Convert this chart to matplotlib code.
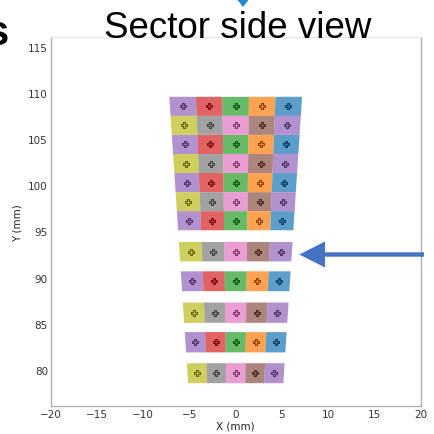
import numpy as np
import matplotlib
matplotlib.use("Agg")
import matplotlib.pyplot as plt
from matplotlib.patches import Polygon
from matplotlib.colors import to_rgb

# ---- data ----
row_centers = [108.53, 106.47, 104.40, 102.34, 100.28, 98.21, 96.15,
               92.80, 89.60, 86.20, 83.00, 79.65]
row_heights = [2.06, 2.06, 2.06, 2.06, 2.06, 2.06, 2.06,
               2.10, 2.15, 2.20, 2.20, 2.16]
row_pattern = ["A", "B", "A", "B", "A", "B", "A", "B", "A", "B", "A", "B"]
pattern_colors = {
    "A": ["tab:purple", "tab:red", "tab:green", "tab:orange", "tab:blue"],
    "B": ["tab:olive", "tab:gray", "tab:pink", "tab:brown", "tab:purple"],
}
n_cells = 5
half_slope = 0.0655  # tan of sector half-angle
xticks = [-20, -15, -10, -5, 0, 5, 10, 15, 20]
yticks = [80, 85, 90, 95, 100, 105, 110, 115]

W, H = 434, 435
fig = plt.figure(figsize=(W / 100, H / 100), dpi=100)
ax = fig.add_axes([50.7 / W, 1 - 407 / H, 370 / W, 368.7 / H])

edges = np.linspace(-half_slope, half_slope, n_cells + 1)
for yc, h, pat in zip(row_centers, row_heights, row_pattern):
    y0, y1 = yc - h / 2, yc + h / 2
    for j in range(n_cells):
        c = pattern_colors[pat][j]
        t0, t1 = edges[j], edges[j + 1]
        poly = Polygon([(y0 * t0, y0), (y0 * t1, y0), (y1 * t1, y1), (y1 * t0, y1)],
                       closed=True, facecolor=c, alpha=0.72, edgecolor="none")
        ax.add_patch(poly)
        tm = (t0 + t1) / 2
        dark = tuple(v * 0.45 for v in to_rgb(c))
        ax.plot(yc * tm, yc, marker="P", markersize=3.8, color=c,
                markeredgecolor=dark, markeredgewidth=0.7)

ax.set_xlim(-20, 20)
ax.set_ylim(76.1, 116.0)
ax.set_xticks(xticks)
ax.set_yticks(yticks)
ax.set_xticklabels([str(v).replace("-", "\u2212") for v in xticks])
ax.tick_params(length=0, labelsize=7.5, colors="#333333", pad=2)
for s in ax.spines.values():
    s.set_color("#b0b0b0")
    s.set_linewidth(1.0)
ax.spines["top"].set_color("#e6e6e6")
ax.set_xlabel("X (mm)", fontsize=7.5, color="#222222", labelpad=1)
ax.set_ylabel("Y (mm)", fontsize=7.5, color="#222222", labelpad=4)

# title
fig.text(238 / W, 1 - 37.5 / H, "Sector side view", fontsize=26.5,
         family="Liberation Sans", ha="center", va="baseline", color="black")
# partial text at left edge (cut off in the reference as well)
fig.text(9 / W, 1 - 45 / H, "s", fontsize=30, family="Liberation Sans",
         ha="right", va="baseline", color="black", fontweight="bold")

def fpts(pts):
    return [(x / W, 1 - y / H) for x, y in pts]

# small blue arrow tip at top
fig.patches.append(Polygon(fpts([(236, -1), (250, -1), (243, 8)]), closed=True,
                           transform=fig.transFigure, facecolor="#1f8ad6",
                           edgecolor="none", figure=fig))
# big blue arrow
arrow_pts = [(299.3, 255.5), (325, 242.5), (325, 253.3), (424, 253.3),
             (424, 257.7), (325, 257.7), (325, 268.5)]
fig.patches.append(Polygon(fpts(arrow_pts), closed=True, transform=fig.transFigure,
                           facecolor="#4472C4", edgecolor="none", figure=fig))

fig.savefig("out.png", dpi=100)
